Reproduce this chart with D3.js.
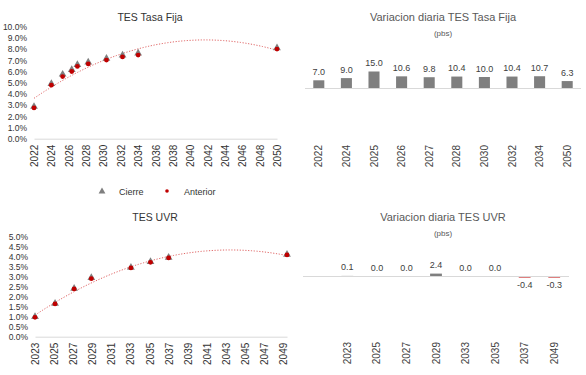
<!DOCTYPE html>
<html>
<head>
<meta charset="utf-8">
<script src="https://cdn.jsdelivr.net/npm/d3@7"></script>
<style>
body { margin: 0; background: #fff; }
svg { display: block; font-family: "Liberation Sans", Arial, sans-serif; }
</style>
</head>
<body>
<svg id="chart" width="586" height="375"></svg>
<script>
// TES Tasa Fija - maturities (decimal years), yields in %
const fijaYears = [2022.0, 2024.0, 2025.3, 2026.35, 2027.0, 2028.25, 2030.35, 2032.2, 2034.0, 2050.0];
const fijaCierre = [2.82, 4.87, 5.70, 6.11, 6.55, 6.78, 7.12, 7.40, 7.58, 8.06];
const fijaAnterior = [2.75, 4.78, 5.55, 6.00, 6.45, 6.68, 7.02, 7.30, 7.47, 8.00];
const fijaTicksX = [2022, 2024, 2026, 2028, 2030, 2032, 2034, 2036, 2038, 2040, 2042, 2044, 2046, 2048, 2050];
const fijaTicksY = [0, 1, 2, 3, 4, 5, 6, 7, 8, 9, 10];

// Variacion diaria TES Tasa Fija (pbs)
const fijaBonos = ["2022", "2024", "2025", "2026", "2027", "2028", "2030", "2032", "2034", "2050"];
const fijaCambio = [7.0, 9.0, 15.0, 10.6, 9.8, 10.4, 10.0, 10.4, 10.7, 6.3];

// TES UVR
const uvrYears = [2023.0, 2025.1, 2027.1, 2028.9, 2033.05, 2035.1, 2037.0, 2049.4];
const uvrCierre = [0.97, 1.64, 2.39, 2.92, 3.44, 3.72, 3.94, 4.09];
const uvrAnterior = [0.97, 1.64, 2.39, 2.90, 3.44, 3.72, 3.94, 4.09];
const uvrTicksX = [2023, 2025, 2027, 2029, 2031, 2033, 2035, 2037, 2039, 2041, 2043, 2045, 2047, 2049];
const uvrTicksY = [0, 0.5, 1, 1.5, 2, 2.5, 3, 3.5, 4, 4.5, 5];

// Variacion diaria TES UVR (pbs) - first slot is an empty category
const uvrBonos = ["", "2023", "2025", "2027", "2029", "2033", "2035", "2037", "2049"];
const uvrCambio = [null, 0.1, 0.0, 0.0, 2.4, 0.0, 0.0, -0.4, -0.3];

const svg = d3.select("#chart");
const pct = d3.format(".1%");
const one = v => v.toFixed(1);

// least squares 2nd order polynomial (like excel trendline)
function polyFit2(xs, ys) {
	const x0 = xs[0];
	let s0 = 0, s1 = 0, s2 = 0, s3 = 0, s4 = 0, t0 = 0, t1 = 0, t2 = 0;
	xs.forEach((x, i) => {
		const t = x - x0, y = ys[i];
		s0 += 1; s1 += t; s2 += t * t; s3 += t * t * t; s4 += t * t * t * t;
		t0 += y; t1 += t * y; t2 += t * t * y;
	});
	const det = (m) => m[0][0] * (m[1][1] * m[2][2] - m[1][2] * m[2][1])
		- m[0][1] * (m[1][0] * m[2][2] - m[1][2] * m[2][0])
		+ m[0][2] * (m[1][0] * m[2][1] - m[1][1] * m[2][0]);
	const M = [[s0, s1, s2], [s1, s2, s3], [s2, s3, s4]];
	const r = [t0, t1, t2];
	const D = det(M);
	const coef = [0, 1, 2].map(k => det(M.map((row, i) => row.map((v, j) => j === k ? r[i] : v))) / D);
	return x => { const t = x - x0; return coef[0] + coef[1] * t + coef[2] * t * t; };
}

function scatterChart(cfg) {
	const g = svg.append("g");

	const x = d3.scaleLinear().domain(cfg.xDomain).range(cfg.xRange);
	const y = d3.scaleLinear().domain(cfg.yDomain).range(cfg.yRange);

	g.append("text")
		.attr("x", cfg.titleX).attr("y", cfg.titleY)
		.attr("text-anchor", "middle")
		.style("font-size", "10.5px")
		.style("fill", "#333")
		.text(cfg.title);

	// y labels only, no axis line
	g.append("g")
		.attr("transform", "translate(" + cfg.xRange[0] + ",0)")
		.call(d3.axisLeft(y).tickValues(cfg.yTicks).tickFormat(d => pct(d / 100)).tickSize(0).tickPadding(7))
		.call(a => a.select(".domain").remove())
		.call(a => a.selectAll("text").style("font-size", "8.5px").style("fill", "#333").style("font-family", "inherit"));

	// x axis
	const xa = g.append("g")
		.attr("transform", "translate(0," + cfg.yRange[0] + ")")
		.call(d3.axisBottom(x).tickValues(cfg.xTicks).tickFormat(d3.format("d")).tickSize(0).tickSizeOuter(0));
	xa.select(".domain").attr("stroke", "#d9d9d9");
	xa.selectAll("text")
		.attr("transform", "rotate(-90)")
		.attr("text-anchor", "end")
		.attr("x", -6).attr("y", 0).attr("dy", "0.35em")
		.style("font-size", "10px").style("fill", "#333").style("font-family", "inherit");

	// trendline from the Anterior series
	const fit = polyFit2(cfg.years, cfg.anterior);
	const xs = d3.range(0, 101).map(i => cfg.years[0] + (cfg.years[cfg.years.length - 1] - cfg.years[0]) * i / 100);
	g.append("path")
		.datum(xs)
		.attr("fill", "none")
		.attr("stroke", "#e06666")
		.attr("stroke-width", 1)
		.attr("stroke-dasharray", "1.2,1.6")
		.attr("d", d3.line().x(d => x(d)).y(d => y(fit(d))));

	g.append("g").selectAll("path")
		.data(cfg.years)
		.join("path")
			.attr("transform", (d, i) => "translate(" + x(d) + "," + (y(cfg.cierre[i]) - 0.5) + ")")
			.attr("d", d3.symbol(d3.symbolTriangle, 26))
			.attr("fill", "#7f7f7f");

	g.append("g").selectAll("circle")
		.data(cfg.years)
		.join("circle")
			.attr("cx", d => x(d))
			.attr("cy", (d, i) => y(cfg.anterior[i]))
			.attr("r", 2.4)
			.attr("fill", "#c00000");
}

function barChart(cfg) {
	const g = svg.append("g");

	const x = d3.scaleBand()
		.domain(d3.range(cfg.cats.length))
		.range(cfg.xRange)
		.paddingInner(0.6)
		.paddingOuter(0.3);
	const y = d3.scaleLinear().domain(cfg.yDomain).range(cfg.yRange);

	g.append("text")
		.attr("x", cfg.titleX).attr("y", cfg.titleY)
		.attr("text-anchor", "middle")
		.style("font-size", "11px")
		.style("fill", "#595959")
		.text(cfg.title);
	g.append("text")
		.attr("x", cfg.titleX).attr("y", cfg.titleY + 15)
		.attr("text-anchor", "middle")
		.style("font-size", "8px")
		.style("fill", "#595959")
		.text("(pbs)");

	const data = cfg.vals.map((v, i) => ({ i: i, v: v })).filter(d => d.v !== null);

	g.append("g").selectAll("rect")
		.data(data)
		.join("rect")
			.attr("x", d => x(d.i))
			.attr("y", d => y(Math.max(0, d.v)))
			.attr("width", x.bandwidth())
			.attr("height", d => Math.max(Math.abs(y(d.v) - y(0)), d.v < 0 ? 1.5 : 0))
			.attr("fill", d => d.v < 0 ? "#c00000" : "#7f7f7f");

	g.append("line")
		.attr("x1", cfg.xRange[0]).attr("x2", cfg.xRange[1])
		.attr("y1", y(0) + 0.5).attr("y2", y(0) + 0.5)
		.attr("stroke", "#d9d9d9");

	g.append("g").selectAll("text")
		.data(data)
		.join("text")
			.attr("x", d => x(d.i) + x.bandwidth() / 2)
			.attr("y", d => d.v < 0 ? y(d.v) + 12 : y(d.v) - 5.5)
			.attr("text-anchor", "middle")
			.style("font-size", "9px")
			.style("fill", "#404040")
			.text(d => one(d.v));

	const xa = g.append("g")
		.attr("transform", "translate(0," + cfg.labelY + ")")
		.call(d3.axisBottom(x).tickFormat(i => cfg.cats[i]).tickSize(0));
	xa.select(".domain").remove();
	xa.selectAll("text")
		.attr("transform", "rotate(-90)")
		.attr("text-anchor", "end")
		.attr("x", 0).attr("y", 0).attr("dy", "0.35em")
		.style("font-size", "10px").style("fill", "#404040").style("font-family", "inherit");
}

scatterChart({
	title: "TES Tasa Fija", titleX: 150, titleY: 21,
	years: fijaYears, cierre: fijaCierre, anterior: fijaAnterior,
	xTicks: fijaTicksX, yTicks: fijaTicksY,
	xDomain: [2022, 2050], xRange: [34, 277],
	yDomain: [0, 10], yRange: [138.7, 26.7]
});

scatterChart({
	title: "TES UVR", titleX: 155, titleY: 221,
	years: uvrYears, cierre: uvrCierre, anterior: uvrAnterior,
	xTicks: uvrTicksX, yTicks: uvrTicksY,
	xDomain: [2023, 2049.4], xRange: [35, 287],
	yDomain: [0, 5], yRange: [336.7, 236.7]
});

// legend
const legend = svg.append("g").style("font-size", "9px").style("fill", "#333");
legend.append("path")
	.attr("transform", "translate(102,191.5)")
	.attr("d", d3.symbol(d3.symbolTriangle, 20))
	.attr("fill", "#7f7f7f");
legend.append("text").attr("x", 119).attr("y", 195).text("Cierre");
legend.append("circle").attr("cx", 167).attr("cy", 191).attr("r", 1.8).attr("fill", "#c00000");
legend.append("text").attr("x", 184).attr("y", 195).text("Anterior");

barChart({
	title: "Variacion diaria TES Tasa Fija", titleX: 443, titleY: 21,
	cats: fijaBonos, vals: fijaCambio,
	xRange: [305, 581],
	yDomain: [-50, 20], yRange: [143, 66],
	labelY: 145
});

barChart({
	title: "Variacion diaria TES UVR", titleX: 443, titleY: 221,
	cats: uvrBonos, vals: uvrCambio,
	xRange: [303, 569],
	yDomain: [-60, 15], yRange: [336, 261],
	labelY: 342
});
</script>
</body>
</html>
